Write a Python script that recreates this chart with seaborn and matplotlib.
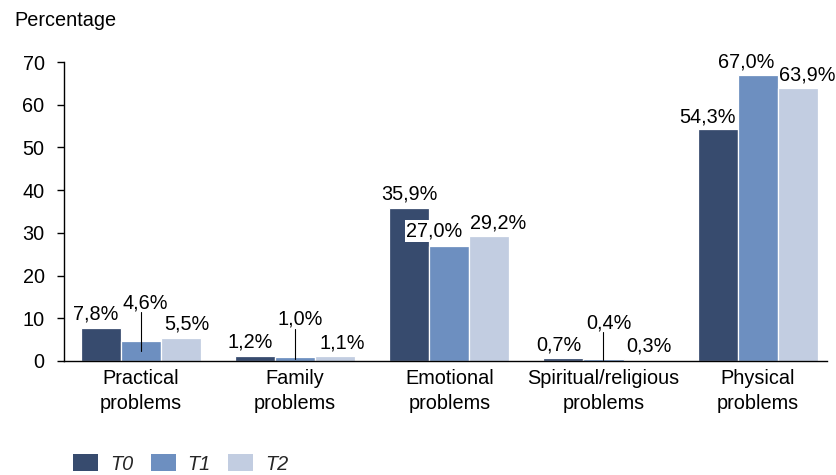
import matplotlib
matplotlib.use("Agg")
import matplotlib.pyplot as plt
from matplotlib.transforms import offset_copy
from matplotlib.patches import Patch
import seaborn as sns
import pandas as pd

# ---- data ----
categories = ["Practical\nproblems", "Family\nproblems", "Emotional\nproblems",
              "Spiritual/religious\nproblems", "Physical\nproblems"]
series = ["T0", "T1", "T2"]
t0 = [7.8, 1.2, 35.9, 0.7, 54.3]
t1 = [4.6, 1.0, 27.0, 0.4, 67.0]
t2 = [5.5, 1.1, 29.2, 0.3, 63.9]
y_ticks = [0, 10, 20, 30, 40, 50, 60, 70]

# ---- styling ----
colors = ["#374b6e", "#6d8fc0", "#c2cde1"]
FS = 14.3
# label offsets in pixels (dx, dy above bar top) per series per category
label_dx = {
    "T0": [-5, -5, 0, -5, -10],
    "T1": [4, 5, -15, 5, -11],
    "T2": [6, 7, 9, 5, 10],
}
label_dy = {
    "T0": [8, 8, 8, 8, 7],
    "T1": [33, 32, 9, 31, 7],
    "T2": [8, 8, 8, 8, 8],
}
leader = {"T1": [True, True, False, True, False]}
white_box = {("T1", 2)}

sns.set_theme(style="white")
plt.rcParams["font.family"] = ["Liberation Sans", "DejaVu Sans"]

rows = []
for s, vals in zip(series, [t0, t1, t2]):
    for c, v in zip(categories, vals):
        rows.append({"category": c, "series": s, "value": v})
df = pd.DataFrame(rows)

fig = plt.figure(figsize=(8.37, 4.75), dpi=100)
ax = fig.add_axes([64 / 837, 1 - 361 / 475, (827 - 64) / 837, (361 - 62) / 475])

sns.barplot(data=df, x="category", y="value", hue="series", order=categories,
            hue_order=series, palette=colors, width=0.78, ax=ax,
            edgecolor="white", linewidth=0.9, saturation=1, errorbar=None,
            legend=False)

ax.set_xlim(-0.5, 4.45)
ax.set_ylim(0, 70)
ax.set_yticks(y_ticks)
ax.set_yticklabels([str(t) for t in y_ticks], fontsize=FS, color="black")
ax.set_xticks(range(len(categories)))
ax.set_xticklabels(categories, fontsize=FS, color="black", linespacing=1.4)
ax.set_xlabel("")
ax.set_ylabel("")
ax.tick_params(axis="x", length=0, pad=6)
ax.tick_params(axis="y", length=5, width=1, pad=9, direction="out", color="black",
               left=True)
for side in ["top", "right"]:
    ax.spines[side].set_visible(False)
for side in ["left", "bottom"]:
    ax.spines[side].set_color("black")
    ax.spines[side].set_linewidth(1)

px = 70 / (361 - 62)  # data units per pixel

for si, (s, container) in enumerate(zip(series, ax.containers)):
    for ci, bar in enumerate(container):
        v = bar.get_height()
        xc = bar.get_x() + bar.get_width() / 2
        txt = f"{v:.1f}%".replace(".", ",")
        tr = offset_copy(ax.transData, fig=fig, x=label_dx[s][ci],
                         y=label_dy[s][ci], units="dots")
        kw = {}
        if (s, ci) in white_box:
            kw["bbox"] = dict(facecolor="white", edgecolor="none", pad=1)
        ax.text(xc, v, txt, transform=tr, ha="center", va="baseline",
                fontsize=FS, color="black", **kw)
        if s in leader and leader[s][ci]:
            top = v + (label_dy[s][ci] - 4) * px
            ax.plot([xc, xc], [v / 2, top], color="black", lw=0.8)

fig.text(14 / 837, 1 - 26 / 475, "Percentage", fontsize=FS, va="baseline",
         ha="left", color="black")

handles = [Patch(facecolor=c, edgecolor="none") for c in colors]
leg = fig.legend(handles, series, loc="center left",
                 bbox_to_anchor=(73 / 837, 1 - 464 / 475), ncol=3,
                 frameon=False, borderpad=0, borderaxespad=0,
                 handlelength=1.25, handleheight=0.9, handletextpad=0.6,
                 columnspacing=0.9, fontsize=FS)
for t in leg.get_texts():
    t.set_fontstyle("italic")

fig.savefig("out.png", dpi=100)
